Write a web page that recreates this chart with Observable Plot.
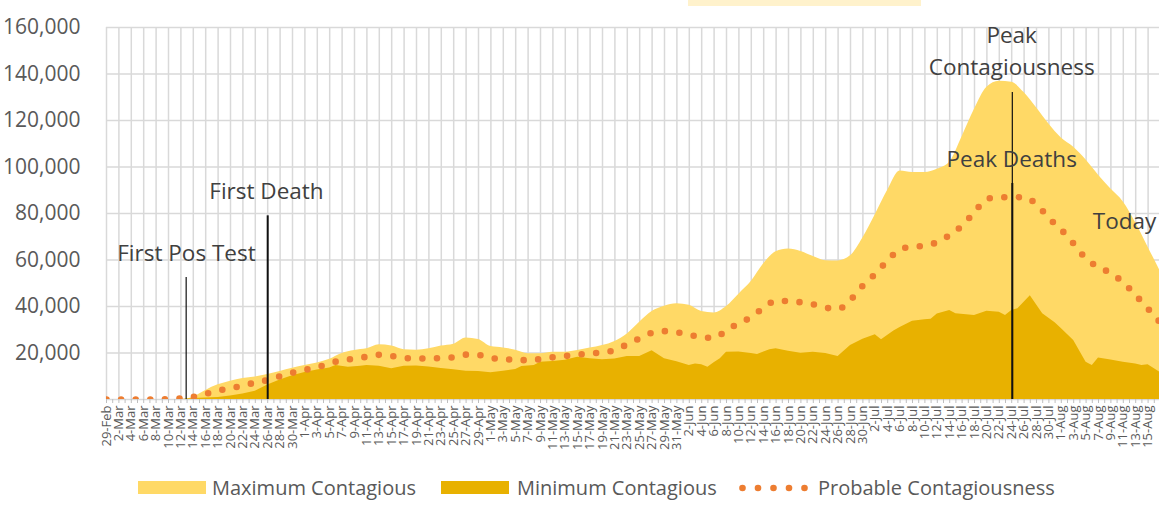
<!DOCTYPE html>
<html><head><meta charset="utf-8">
<script src="https://cdn.jsdelivr.net/npm/d3@7"></script>
<script src="https://cdn.jsdelivr.net/npm/@observablehq/plot@0.6"></script>
<style>
body{margin:0;background:#fff;font-family:"Open Sans",sans-serif;}
#wrap{position:relative;width:1159px;height:505px;overflow:hidden;background:#fff;}
#chart{position:absolute;left:0;top:0;}
.titlebox{position:absolute;left:688px;top:0;width:233px;height:6px;background:#FFF2CC;}
.sw{position:absolute;top:481px;width:68px;height:13px;}
.lt{position:absolute;top:476px;font-size:20px;line-height:24px;color:#595959;white-space:nowrap;}
</style></head><body>
<div id="wrap">
  <div id="chart"></div>
  <div class="titlebox"></div>
  <div class="sw" style="left:138px;background:#FFD966"></div>
  <div class="lt" style="left:212px">Maximum Contagious</div>
  <div class="sw" style="left:441px;background:#E8B100"></div>
  <div class="lt" style="left:517px">Minimum Contagious</div>
  <svg style="position:absolute;left:738px;top:480px" width="72" height="16"><g fill="#ED7D31"><circle cx="4.5" cy="8" r="3.3"/><circle cx="20" cy="8" r="3.3"/><circle cx="35.5" cy="8" r="3.3"/><circle cx="51" cy="8" r="3.3"/><circle cx="66.5" cy="8" r="3.3"/></g></svg>
  <div class="lt" style="left:818px">Probable Contagiousness</div>
</div>
<script>
// Day offsets are counted from 29-Feb-2020
const startDate = new Date(Date.UTC(2020, 1, 29));
const evenDays = d3.range(0, 171, 2);
const maxValues = [0,0,0,0,0,0,0,1000,3900,6300,
  7900,9000,9700,10700,12000,13400,14600,15700,17300,19800,
  21100,21800,23500,23000,21400,21200,21800,23000,23800,26500,
  25800,22800,22200,21200,19700,19700,20350,20350,21100,22100,
  23200,25000,28200,33200,37800,40100,41200,40500,37800,37200,
  40000,45300,50700,58350,63500,64700,63700,61500,59700,59600,
  61800,69500,79500,90000,98300,97600,97600,99000,102000,113000,
  124800,134300,136900,136400,132000,125500,118500,112500,108500,103000,
  96500,90500,85000,76000,65500,55000];
const probValues = [0,0,0,0,0,150,450,1150,2400,3800,
  4900,5900,7300,8350,10000,11500,12700,13900,15500,17000,
  17500,18400,19200,18700,17900,17650,17650,17800,18200,19300,
  19100,18000,17000,17450,16700,17400,18150,18700,19200,19900,
  20050,21400,23700,26300,28700,29400,28900,27900,26650,26500,
  29800,32800,35400,39500,42400,42300,41800,40900,39500,38900,
  42800,49000,54000,59800,64600,65700,66100,67700,70700,74800,
  80600,86300,87000,87000,87000,84000,78000,73000,67000,60500,
  57000,54300,50300,44800,39000,33000];
const minDays = [0,12,14,18,20,22,24,26,28,30,32,34,36,37,39,41,42,44,46,48,
  50,52,54,56,58,60,62,64,66,67,69,70,72,74,76,78,80,82,84,86,
  88,90,92,94,95,96,97,98,99,100,102,104,105,107,108,110,112,114,116,118,
  120,122,124,125,127,128,130,132,133,134,136,137,140,142,144,145,146,147,149,151,
  153,154,156,158,159,160,162,164,166,167,168,170];
const minValues = [0,0,400,900,1500,2400,3600,6200,8400,10200,11600,12700,13600,14600,13900,14300,14600,14300,13200,14350,
  14400,14000,13300,12800,12200,12000,11500,12100,12900,14200,14600,16000,16300,16900,18200,17500,17100,17400,18500,18500,
  21000,17500,16200,14600,15300,15000,13900,15800,17500,20300,20400,19800,19400,21400,21800,20800,19900,20350,19800,18500,
  23200,25900,27900,25700,29500,31000,33700,34300,34500,36800,38300,36900,36100,38000,37500,36100,38300,39000,44600,36900,
  33000,30500,25400,16000,14600,17800,17000,16000,15300,14600,15000,11500];
const yTicks = [20000,40000,60000,80000,100000,120000,140000,160000];
const eventLines = [
  {day: 12.85, top: 52500, w: 1.2},
  {day: 26, top: 79000, w: 2},
  {day: 146.1, top: 132000, w: 1.2},
  {day: 146.1, top: 92900, w: 2}
];
const eventLabels = [
  {day: 12.9, v: 63900, text: "First Pos Test"},
  {day: 25.8, v: 90700, text: "First Death"},
  {day: 146, v: 150900, text: "Peak\nContagiousness"},
  {day: 146, v: 104300, text: "Peak Deaths"},
  {day: 164.2, v: 77700, text: "Today"}
];

const evenData = evenDays.map((d, i) => ({d, max: maxValues[i], prob: probValues[i]}));
const minData = minDays.map((d, i) => ({d, min: minValues[i]}));
const fmtDate = d3.utcFormat("%-d-%b");
const labelOf = d => fmtDate(d3.utcDay.offset(startDate, d));

const W = 1159, left = 106;
const dayPx = 6.2;
const chart = Plot.plot({
  width: W, height: 465,
  marginLeft: left, marginRight: 0, marginTop: 27, marginBottom: 66,
  style: {fontFamily: "'Open Sans', sans-serif", background: "#fff"},
  x: {type: "linear", domain: [0, (W - left) / dayPx], axis: null},
  y: {domain: [0, 160000], axis: null},
  marks: [
    Plot.gridY([0, ...yTicks], {stroke: "#D9D9D9", strokeOpacity: 1, strokeWidth: 1.5}),
    Plot.gridX(d3.range(0, 170, 2), {stroke: "#D9D9D9", strokeOpacity: 1, strokeWidth: 1.5}),
    Plot.areaY(evenData, {x: "d", y: "max", fill: "#FFD966", curve: "monotone-x", clip: true}),
    Plot.areaY(minData, {x: "d", y: "min", fill: "#E8B100", clip: true}),
    Plot.line(evenData, {x: "d", y: "prob", stroke: "#ED7D31", strokeWidth: 6.6, strokeDasharray: "0 14.6", strokeLinecap: "round", curve: "monotone-x", clip: true}),
    Plot.ruleX(eventLines, {x: "day", y1: 0, y2: "top", stroke: "#111", strokeWidth: "w"}),
    Plot.text(eventLabels, {x: "day", y: "v", text: "text", fontSize: 22.5, fill: "#404040", lineHeight: 1.42}),
    Plot.axisY({ticks: yTicks, tickFormat: d3.format(","), tickSize: 0, tickPadding: 26, fontSize: 21, color: "#595959"}),
    Plot.axisX({ticks: d3.range(0, 170, 1), tickSize: 4, tickFormat: () => "", stroke: "#BFBFBF"}),
    Plot.axisX({ticks: d3.range(0, 169, 2), tickFormat: labelOf, tickSize: 0, tickPadding: 6, tickRotate: -90, fontSize: 13, color: "#595959"})
  ]
});
document.getElementById("chart").appendChild(chart);
</script>
</body></html>
